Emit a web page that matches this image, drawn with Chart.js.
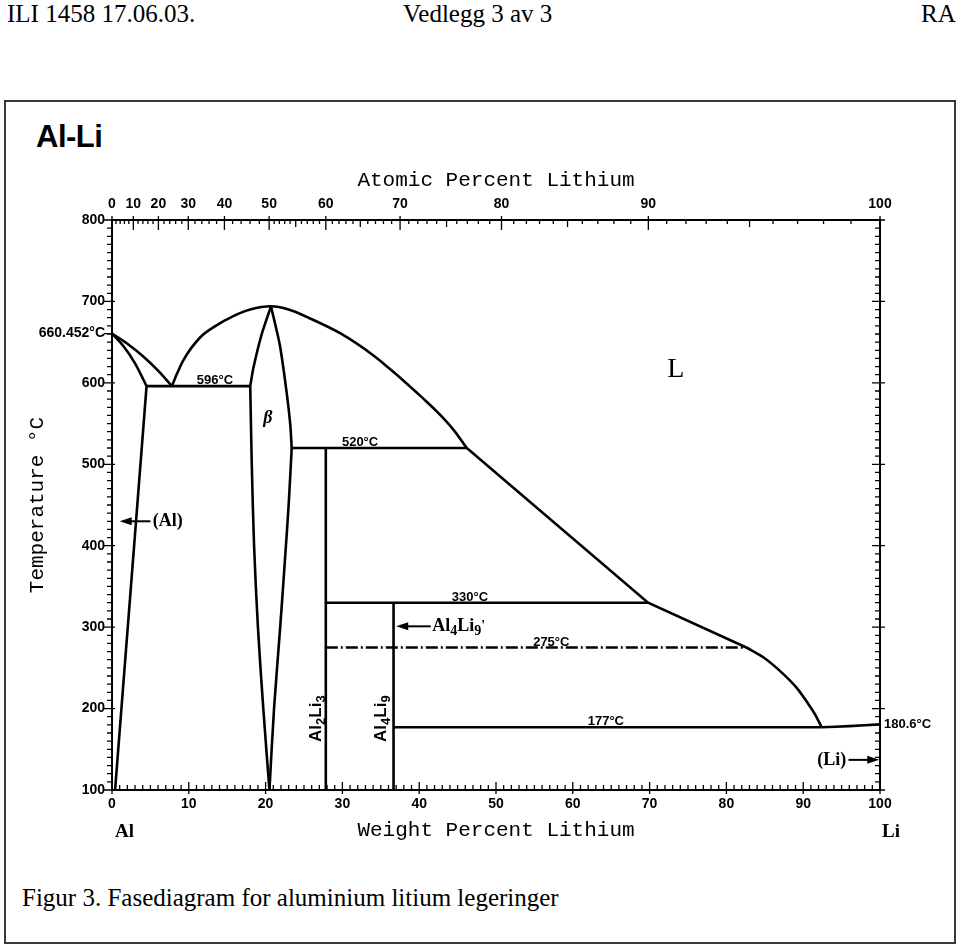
<!DOCTYPE html>
<html>
<head>
<meta charset="utf-8">
<script src="https://cdn.jsdelivr.net/npm/chart.js@4.4.0/dist/chart.umd.min.js"></script>
<style>
  body { margin:0; background:#fff; width:960px; height:948px; position:relative; overflow:hidden; }
  #wrap { position:absolute; left:0; top:0; width:960px; height:948px; }
  .doc { position:absolute; font-family:"Liberation Serif", serif; font-size:25px; color:#000; line-height:28px; }
  #box { position:absolute; left:4px; top:100px; width:948px; height:840px; border:2px solid #3a3a3a; }
  #sys { position:absolute; left:36px; top:119px; font-family:"Liberation Sans", sans-serif; font-weight:900; font-size:31px; letter-spacing:-0.5px; }
</style>
</head>
<body>
<div id="box"></div>
<div class="doc" style="left:7px; top:0px;">ILI 1458 17.06.03.</div>
<div class="doc" style="left:403px; top:0px;">Vedlegg 3 av 3</div>
<div class="doc" style="left:921px; top:0px;">RA</div>
<div class="doc" style="left:22px; top:884px;">Figur 3. Fasediagram for aluminium litium legeringer</div>
<div id="sys">Al-Li</div>
<div id="wrap"><canvas id="myChart" width="960" height="948"></canvas></div>
<script>
// weight percent Li / temperature in degC
const yTicks = [100, 200, 300, 400, 500, 600, 700, 800];
const atomicTicks = [0, 10, 20, 30, 40, 50, 60, 70, 80, 90, 100];
const alMelting = 660.452;

const alLiquidus = [[0,660.452],[2,648],[4,633],[6,615],[7.8,596]];
const alSolidus = [[0,660.452],[1.5,645],[3,624],[4.5,596]];
const alSolvus = [[4.5,596],[0.4,100]];
const line596 = [[4.5,596],[18.0,596]];
const betaLiquidus = [[7.8,596],[8.5,612],[9.3,628],[11.5,656],[13.5,670],[15.8,682],[18,690],[20.7,694],[23,690],[25.35,681],[29.7,661],[34,634],[36.2,617],[38.4,599],[40.5,581],[42.7,561],[44.5,542],[46.2,520]];
const betaLeftUp = [[18.0,596],[18.4,618],[19.5,660],[20.7,694]];
const betaLeftLow = [[18.0,596],[18.2,500],[18.5,400],[19.0,300],[19.7,200],[20.5,100]];
const betaRightUp = [[20.7,694],[21.3,670],[21.9,644],[22.7,591],[23.2,550],[23.4,520]];
const betaRightLow = [[23.4,520],[23.0,450],[22.5,380],[21.9,300],[21.1,200],[20.5,100]];
const line520 = [[23.4,520],[46.2,520]];
const liquidusMid = [[46.2,520],[69.8,330],[82.6,275]];
const liquidusLi = [[82.6,275],[84.8,263],[87,246],[89.1,226],[90.5,208],[91.6,192],[92.4,177]];
const liSide = [[92.4,177],[96,178.4],[100,180.6]];
const al2li3 = [[27.84,520],[27.84,100]];
const line330 = [[27.84,330],[69.8,330]];
const al4li9 = [[36.66,330],[36.66,100]];
const line275 = [[27.84,275],[82.6,275]];
const line177 = [[36.66,177],[92.4,177]];

function atToWt(a) { return a * 6.941 / (a * 6.941 + (100 - a) * 26.982) * 100; }
function pts(arr) { return arr.map(p => ({x: p[0], y: p[1]})); }

function series(arr, tension, dash) {
    return {
        data: pts(arr), showLine: true, pointRadius: 0, borderColor: '#000',
        borderWidth: 2.6, tension: tension || 0, borderDash: dash || [], fill: false
    };
}
function smooth(arr) {
    let s = series(arr);
    s.cubicInterpolationMode = 'monotone';
    return s;
}

const sans = '"Liberation Sans", Arial, sans-serif';
const serif = '"Liberation Serif", serif';

function chem(ctx, parts, x, y, size, family) {
    // parts: [text, isSub]
    let cx = x;
    parts.forEach(p => {
        ctx.font = 'bold ' + (p[1] ? Math.round(size * 0.75) : size) + 'px ' + family;
        ctx.fillText(p[0], cx, p[1] ? y + size * 0.3 : y);
        cx += ctx.measureText(p[0]).width;
    });
    return cx;
}

function arrow(ctx, x1, y, x2) {
    const d = x2 > x1 ? 1 : -1;
    ctx.beginPath(); ctx.moveTo(x1, y); ctx.lineTo(x2 - d * 8, y); ctx.lineWidth = 2; ctx.stroke();
    ctx.beginPath(); ctx.moveTo(x2, y); ctx.lineTo(x2 - d * 12, y - 4); ctx.lineTo(x2 - d * 12, y + 4); ctx.closePath(); ctx.fill();
}

const decor = {
    id: 'decor',
    afterDraw(chart) {
        const ctx = chart.ctx, a = chart.chartArea;
        const xs = chart.scales.x, ys = chart.scales.y;
        const px = v => xs.getPixelForValue(v), py = v => ys.getPixelForValue(v);
        ctx.save();
        ctx.strokeStyle = '#000'; ctx.fillStyle = '#000';
        ctx.lineWidth = 2;
        ctx.strokeRect(a.left, a.top, a.right - a.left, a.bottom - a.top);
        ctx.lineWidth = 1.3;
        ctx.beginPath();
        // bottom: every 1 wt%
        for (let v = 0; v <= 100; v++) {
            const x = px(v), maj = v % 10 === 0;
            ctx.moveTo(x, a.bottom + (maj ? 4 : 0)); ctx.lineTo(x, a.bottom - (maj ? 8 : 5));
        }
        // left and right: every 10 degC
        for (let t = 100; t <= 800; t += 10) {
            const y = py(t), maj = t % 100 === 0;
            ctx.moveTo(a.left - (maj ? 8 : 5), y); ctx.lineTo(a.left + (maj ? 3 : 0), y);
            ctx.moveTo(a.right + (maj ? 5 : 0), y); ctx.lineTo(a.right - (maj ? 8 : 5), y);
        }
        ctx.moveTo(a.left - 8, py(alMelting)); ctx.lineTo(a.left, py(alMelting));
        // top: atomic percent
        for (let at = 0; at <= 100; at += (at < 50 ? 2 : 1)) {
            const x = px(atToWt(at)), maj = at % 10 === 0, mid = at % 5 === 0;
            ctx.moveTo(x, a.top - (maj ? 4 : 0)); ctx.lineTo(x, a.top + (maj ? 10 : mid ? 7 : 4));
        }
        ctx.stroke();

        ctx.textBaseline = 'bottom'; ctx.textAlign = 'center';
        ctx.font = 'bold 13px ' + sans;
        [[596, 13.4], [520, 32.3], [330, 46.6], [275, 57.2], [177, 64.3]].forEach(l => {
            ctx.fillText(l[0] + '°C', px(l[1]), py(l[0]) + 1);
        });
        ctx.textAlign = 'left'; ctx.textBaseline = 'middle';
        ctx.fillText('180.6°C', a.right + 4, py(180.6));

        ctx.textAlign = 'center';
        ctx.font = 'italic bold 18px ' + serif;
        ctx.fillText('β', px(20.3), py(557));
        ctx.font = '28px ' + serif;
        ctx.fillText('L', px(73.4), py(616));

        // (Al) arrow
        ctx.textAlign = 'left';
        arrow(ctx, px(5.0), py(430), px(1.0));
        chem(ctx, [['(Al)', 0]], px(5.3), py(430), 18, serif);
        // Al4Li9' arrow
        arrow(ctx, px(41.5), py(301), px(37.0));
        let e = chem(ctx, [['Al', 0], ['4', 1], ['Li', 0], ['9', 1]], px(41.7), py(301), 18, serif);
        ctx.fillText("'", e, py(301));
        // (Li) arrow
        ctx.font = 'bold 18px ' + serif;
        ctx.textAlign = 'right';
        ctx.fillText('(Li)', px(95.6), py(137));
        ctx.textAlign = 'left';
        arrow(ctx, px(95.9), py(137), px(99.9));

        // vertical compound labels
        [[26.6, [['Al', 0], ['2', 1], ['Li', 0], ['3', 1]]], [35.1, [['Al', 0], ['4', 1], ['Li', 0], ['9', 1]]]].forEach(c => {
            ctx.save();
            ctx.translate(px(c[0]), py(159));
            ctx.rotate(-Math.PI / 2);
            chem(ctx, c[1], 0, 0, 17, sans);
            ctx.restore();
        });

        // end members under the axis
        ctx.font = 'bold 19px ' + serif;
        ctx.fillText('Al', px(0) + 3, a.bottom + 42);
        ctx.fillText('Li', px(100) + 2, a.bottom + 42);
        ctx.restore();
    }
};

const tickFont = {family: sans, weight: 'bold', size: 14};
const titleFont = {family: '"Liberation Mono", monospace', size: 21};
const noGrid = {display: false, drawTicks: false};

new Chart(document.getElementById('myChart'), {
    type: 'scatter',
    data: {
        datasets: [
            smooth(alLiquidus), smooth(alSolidus), series(alSolvus), series(line596),
            smooth(betaLiquidus), series(betaLeftUp, 0.2), series(betaLeftLow, 0.3),
            series(betaRightUp, 0.3), series(betaRightLow, 0.3), series(line520),
            series(liquidusMid), smooth(liquidusLi), series(liSide, 0.3),
            series(al2li3), series(line330), series(al4li9),
            series(line275, 0, [12, 3, 2, 3]), series(line177)
        ]
    },
    plugins: [decor],
    options: {
        responsive: false, animation: false,
        layout: {padding: {left: 12, right: 80, top: 120, bottom: 98}},
        plugins: {legend: {display: false}, tooltip: {enabled: false}},
        scales: {
            x: {
                type: 'linear', position: 'bottom', min: 0, max: 100,
                grid: noGrid, border: {display: false},
                ticks: {stepSize: 10, autoSkip: false, maxRotation: 0, padding: 6, color: '#000', font: tickFont},
                title: {display: true, text: 'Weight Percent Lithium', color: '#000', font: titleFont, padding: {bottom: 7}},
                afterFit: s => { s.height = 60; }
            },
            x2: {
                type: 'linear', position: 'top', min: 0, max: 100,
                grid: noGrid, border: {display: false},
                afterBuildTicks: s => { s.ticks = atomicTicks.map(at => ({value: atToWt(at)})); },
                ticks: {autoSkip: false, maxRotation: 0, padding: 7, color: '#000', font: tickFont,
                    callback: (v, i) => atomicTicks[i]},
                title: {display: true, text: 'Atomic Percent Lithium', color: '#000', font: titleFont, padding: {top: 48}},
                afterFit: s => { s.height = 100; }
            },
            y: {
                type: 'linear', min: 100, max: 800,
                grid: noGrid, border: {display: false},
                afterBuildTicks: s => { s.ticks = yTicks.concat([alMelting]).map(v => ({value: v})); },
                ticks: {autoSkip: false, padding: 7, color: '#000', font: tickFont,
                    callback: v => v === alMelting ? '660.452°C' : v},
                title: {display: true, text: 'Temperature °C', color: '#000', font: titleFont, padding: {top: 13}},
                afterFit: s => { s.width = 100; }
            }
        }
    }
});
</script>
</body>
</html>
